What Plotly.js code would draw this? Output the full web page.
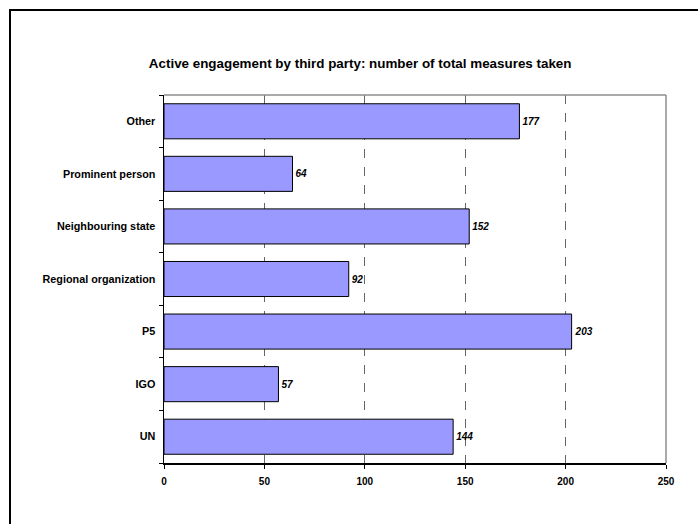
<!DOCTYPE html>
<html>
<head>
<meta charset="utf-8">
<script src="https://cdn.plot.ly/plotly-3.0.1.min.js"></script>
<style>
  html, body { margin: 0; padding: 0; background: #ffffff; }
  #wrap { position: relative; width: 698px; height: 524px; overflow: hidden; }
  #chart { position: absolute; left: 0; top: 0; width: 698px; height: 524px; }
  #frame { position: absolute; left: 9px; top: 9px; width: 720px; height: 540px;
           border-left: 2px solid #000; border-top: 2px solid #000; pointer-events: none; }
</style>
</head>
<body>
<div id="wrap">
  <div id="chart"></div>
  <div id="frame"></div>
</div>
<script>
const categories = ["Other", "Prominent person", "Neighbouring state", "Regional organization", "P5", "IGO", "UN"];
const measures = [177, 64, 152, 92, 203, 57, 144];
const xTicks = [0, 50, 100, 150, 200, 250];
const chartTitle = "Active engagement by third party: number of total measures taken";

const FONT = "'Liberation Sans', Arial, sans-serif";

const trace = {
  type: "bar",
  orientation: "h",
  y: categories,
  x: measures,
  text: measures.map(v => "<b><i>" + v + "</i></b>"),
  textposition: "outside",
  cliponaxis: false,
  textfont: { family: FONT, size: 10, color: "#000" },
  marker: { color: "#9999FF", line: { color: "#000", width: 1 } },
  hoverinfo: "none"
};

const layout = {
  width: 698,
  height: 524,
  margin: { l: 164, r: 32, t: 95, b: 61, pad: 0 },
  paper_bgcolor: "#ffffff",
  plot_bgcolor: "#ffffff",
  showlegend: false,
  bargap: 0.333,
  font: { family: FONT, color: "#000" },
  title: {
    text: "<b>" + chartTitle + "</b>",
    font: { family: FONT, size: 13.4, color: "#000" },
    xref: "container", x: 0.516, xanchor: "center",
    yref: "container", y: 1 - 63 / 524, yanchor: "middle"
  },
  xaxis: {
    range: [0, 250],
    tickvals: xTicks,
    ticktext: xTicks.map(v => "<b>" + v + "</b>"),
    tickfont: { family: FONT, size: 10, color: "#000" },
    ticks: "outside", ticklen: 4, tickcolor: "#000", tickwidth: 1,
    ticklabelstandoff: 4,
    showline: true, linecolor: "#000", linewidth: 2,
    showgrid: true, gridcolor: "#666666", gridwidth: 1, griddash: "dash",
    zeroline: false, fixedrange: true
  },
  yaxis: {
    type: "category",
    autorange: "reversed",
    tickson: "boundaries",
    ticktext: categories.map(c => "<b>" + c + "</b>"),
    tickvals: categories,
    tickfont: { family: FONT, size: 10.8, color: "#000" },
    ticks: "outside", ticklen: 4, tickcolor: "#000", tickwidth: 1,
    ticklabelstandoff: 5,
    showline: true, linecolor: "#000", linewidth: 1.5,
    showgrid: false, zeroline: false, fixedrange: true
  },
  shapes: [
    { type: "line", xref: "paper", yref: "paper", x0: 0, x1: 1, y0: 1, y1: 1,
      line: { color: "#8c8c8c", width: 1.5 } },
    { type: "line", xref: "paper", yref: "paper", x0: 1, x1: 1, y0: 0, y1: 1,
      line: { color: "#8c8c8c", width: 1.5 } }
  ]
};

Plotly.newPlot("chart", [trace], layout, { staticPlot: true, displayModeBar: false });
</script>
</body>
</html>
